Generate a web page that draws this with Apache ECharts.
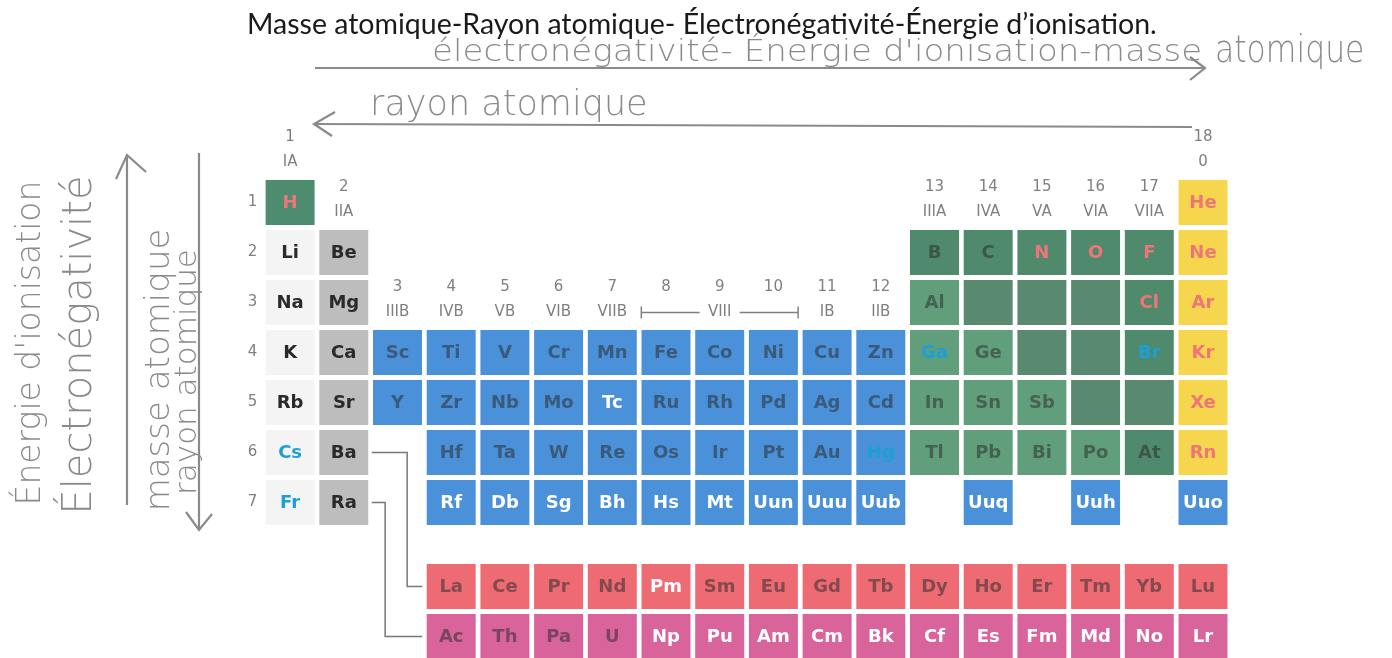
<!DOCTYPE html>
<html>
<head>
<meta charset="utf-8">
<script src="https://cdn.jsdelivr.net/npm/echarts@6/dist/echarts.min.js"></script>
<style>
  html, body { margin: 0; padding: 0; background: #fff; }
  #chart { width: 1392px; height: 658px; }
</style>
</head>
<body>
<div id="chart"></div>
<script>
// symboles par période ('.' = case vide, '#' = case verte sans symbole)
const periodRows = [
  'H . . . . . . . . . . . . . . . . He',
  'Li Be . . . . . . . . . . B C N O F Ne',
  'Na Mg . . . . . . . . . . Al # # # Cl Ar',
  'K Ca Sc Ti V Cr Mn Fe Co Ni Cu Zn Ga Ge # # Br Kr',
  'Rb Sr Y Zr Nb Mo Tc Ru Rh Pd Ag Cd In Sn Sb # # Xe',
  'Cs Ba . Hf Ta W Re Os Ir Pt Au Hg Tl Pb Bi Po At Rn',
  'Fr Ra . Rf Db Sg Bh Hs Mt Uun Uuu Uub . Uuq . Uuh . Uuo'
]
const lanthanides = ['La', 'Ce', 'Pr', 'Nd', 'Pm', 'Sm', 'Eu', 'Gd', 'Tb', 'Dy', 'Ho', 'Er', 'Tm', 'Yb', 'Lu']
const actinides = ['Ac', 'Th', 'Pa', 'U', 'Np', 'Pu', 'Am', 'Cm', 'Bk', 'Cf', 'Es', 'Fm', 'Md', 'No', 'Lr']

// famille de chaque case (couleur de fond)
const kindRows = [
  'h................y',
  'ae..........nnnnny',
  'ae..........gbbbny',
  'aettttttttttggbbny',
  'aettttttttttgggbby',
  'ae.tttttttttggggny',
  'ae.ttttttttt.t.t.t'
]
const lanthanideKind = 'lllllllllllllll'
const actinideKind = 'ccccccccccccccc'

// couleur du symbole
const inkRows = [
  's................s',
  'kk..........ddssss',
  'kk..........d...ss',
  'kkddddddddddcd..cs',
  'kkddddwdddddddd..s',
  'ck.ddddddddcddddds',
  'ck.wwwwwwwww.w.w.w'
]
const lanthanideInk = 'ddddwdddddddddd'
const actinideInk = 'ddddwwwwwwwwwww'

const groupNumbers = ['1', '2', '3', '4', '5', '6', '7', '8', '9', '10', '11', '12', '13', '14', '15', '16', '17', '18']
const groupRoman = ['IA', 'IIA', 'IIIB', 'IVB', 'VB', 'VIB', 'VIIB', '', 'VIII', '', 'IB', 'IIB', 'IIIA', 'IVA', 'VA', 'VIA', 'VIIA', '0']
const periodNumbers = ['1', '2', '3', '4', '5', '6', '7']

const lanthanideRow = 8.68
const actinideRow = 9.68

const fills = {
  h: '#4e8c6f', a: '#f4f4f4', e: '#bdbdbd', t: '#4b91d9', g: '#619f7c',
  n: '#4e8a6b', b: '#598a70', y: '#f6d64c', l: '#ee6b73', c: '#d9639b'
}
const inks = {
  k: '#2a2a2a', d: 'rgba(45,45,45,0.55)', s: '#f07579', c: '#1c9fd6', w: '#ffffff'
}

// construction des cases
const cells = []
periodRows.forEach((row, r) => {
  row.split(' ').forEach((sym, i) => {
    if (sym === '.') return
    cells.push({ col: i + 1, row: r + 1, sym: sym === '#' ? '' : sym, kind: kindRows[r][i], ink: inkRows[r][i] })
  })
})
lanthanides.forEach((sym, i) => {
  cells.push({ col: i + 4, row: lanthanideRow, sym: sym, kind: lanthanideKind[i], ink: lanthanideInk[i] })
})
actinides.forEach((sym, i) => {
  cells.push({ col: i + 4, row: actinideRow, sym: sym, kind: actinideKind[i], ink: actinideInk[i] })
})

// étiquettes des groupes : au-dessus de la première case de chaque colonne
const labels = []
groupNumbers.forEach((num, i) => {
  let first = 7
  periodRows.forEach((row, r) => {
    if (row.split(' ')[i] !== '.' && r + 1 < first) first = r + 1
  })
  labels.push({ col: i + 1, row: first - 1.3, text: num })
  if (groupRoman[i]) labels.push({ col: i + 1, row: first - 0.8, text: groupRoman[i], bracket: groupRoman[i] === 'VIII' })
})
periodNumbers.forEach((p, i) => {
  labels.push({ col: 0.3, row: i + 1, text: p })
})

const chart = echarts.init(document.getElementById('chart'))

const handColor = '#8a8a8a'
const handFont = (size) => 'lighter ' + size + 'px "DejaVu Sans"'

const option = {
  backgroundColor: '#ffffff',
  animation: false,
  title: {
    text: 'Masse atomique-Rayon atomique- Électronégativité-Énergie d\u2019ionisation.',
    left: 242,
    top: 5,
    textStyle: { fontFamily: 'Lato', fontSize: 28.5, fontWeight: 'normal', color: '#1a1a1a' }
  },
  grid: { left: 263.25, top: 77.5, width: 966.6, height: 550, outerBoundsMode: 'none' },
  xAxis: { type: 'value', min: 0.5, max: 18.5, show: false },
  yAxis: { type: 'value', min: -1.5, max: 9.5, inverse: true, show: false },
  series: [
    {
      type: 'custom',
      name: 'cases',
      clip: false,
      data: cells.map((c) => [c.col, c.row]),
      renderItem: function (params, api) {
        const d = cells[params.dataIndex]
        const p = api.coord([api.value(0), api.value(1)])
        const s = api.size([1, 1])
        const w = s[0] * 0.912
        const h = s[1] * 0.9
        return {
          type: 'group',
          children: [
            { type: 'rect', shape: { x: p[0] - w / 2, y: p[1] - h / 2, width: w, height: h }, style: { fill: fills[d.kind] } },
            {
              type: 'text', x: p[0], y: p[1] + 1,
              style: { text: d.sym, fill: inks[d.ink], font: 'bold 18px "DejaVu Sans"', align: 'center', verticalAlign: 'middle' }
            }
          ]
        }
      }
    },
    {
      type: 'custom',
      name: 'etiquettes',
      clip: false,
      data: labels.map((l) => [l.col, l.row]),
      renderItem: function (params, api) {
        const d = labels[params.dataIndex]
        const p = api.coord([api.value(0), api.value(1)])
        const s = api.size([1, 1])
        const children = [
          { type: 'text', x: p[0], y: p[1], style: { text: d.text, fill: '#808080', font: '15px "DejaVu Sans"', align: 'center', verticalAlign: 'middle' } }
        ]
        if (d.bracket) {
          const x0 = p[0] - s[0] * 1.46
          const x1 = p[0] + s[0] * 1.46
          const lineStyle = { stroke: '#808080', lineWidth: 1.5 }
          children.push(
            { type: 'line', shape: { x1: x0, y1: p[1], x2: p[0] - 20, y2: p[1] }, style: lineStyle },
            { type: 'line', shape: { x1: p[0] + 20, y1: p[1], x2: x1, y2: p[1] }, style: lineStyle },
            { type: 'line', shape: { x1: x0, y1: p[1] - 6, x2: x0, y2: p[1] + 6 }, style: lineStyle },
            { type: 'line', shape: { x1: x1, y1: p[1] - 6, x2: x1, y2: p[1] + 6 }, style: lineStyle }
          )
        }
        return { type: 'group', children: children }
      }
    },
    {
      type: 'custom',
      name: 'renvois',
      clip: false,
      // Ba -> lanthanides, Ra -> actinides
      data: [[6, lanthanideRow, 3.18], [7, actinideRow, 2.77]],
      renderItem: function (params, api) {
        const a = api.coord([2.52, api.value(0)])
        const b = api.coord([api.value(2), api.value(0)])
        const c = api.coord([api.value(2), api.value(1)])
        const d = api.coord([3.46, api.value(1)])
        return {
          type: 'polyline',
          shape: { points: [a, b, c, d] },
          style: { stroke: '#777', lineWidth: 1.5, fill: null }
        }
      }
    }
  ],
  graphic: [
    // annotations manuscrites
    { type: 'text', x: 432, y: 53, scaleX: 1.1, style: { text: 'électronégativité- Énergie d\'ionisation-masse', font: handFont(31), fill: handColor, align: 'left', verticalAlign: 'middle' } },
    { type: 'text', x: 1215, y: 52, scaleX: 0.85, style: { text: 'atomique', font: handFont(37), fill: handColor, align: 'left', verticalAlign: 'middle' } },
    { type: 'polyline', shape: { points: [[315, 68], [1205, 68]] }, style: { stroke: handColor, lineWidth: 2.2, fill: null } },
    { type: 'polyline', shape: { points: [[1190, 57], [1205, 68], [1190, 80]] }, style: { stroke: handColor, lineWidth: 2.2, fill: null } },
    { type: 'text', x: 370, y: 106, style: { text: 'rayon atomique', font: handFont(35), fill: handColor, align: 'left', verticalAlign: 'middle' } },
    { type: 'polyline', shape: { points: [[1192, 127], [315, 124]] }, style: { stroke: handColor, lineWidth: 2.2, fill: null } },
    { type: 'polyline', shape: { points: [[335, 112], [314, 124], [332, 136]] }, style: { stroke: handColor, lineWidth: 2.2, fill: null } },

    { type: 'text', x: 31, y: 343, rotation: Math.PI / 2, style: { text: 'Énergie d\'ionisation', font: handFont(33), fill: handColor, align: 'center', verticalAlign: 'middle' } },
    { type: 'text', x: 81, y: 345, rotation: Math.PI / 2, style: { text: 'Électronégativité', font: handFont(40), fill: handColor, align: 'center', verticalAlign: 'middle' } },
    { type: 'polyline', shape: { points: [[127, 505], [127, 155]] }, style: { stroke: handColor, lineWidth: 2.2, fill: null } },
    { type: 'polyline', shape: { points: [[116, 179], [127, 155], [146, 172]] }, style: { stroke: handColor, lineWidth: 2.2, fill: null } },
    { type: 'text', x: 160, y: 370, rotation: Math.PI / 2, style: { text: 'masse atomique', font: handFont(34), fill: handColor, align: 'center', verticalAlign: 'middle' } },
    { type: 'text', x: 188, y: 372, rotation: Math.PI / 2, style: { text: 'rayon atomique', font: handFont(31), fill: handColor, align: 'center', verticalAlign: 'middle' } },
    { type: 'polyline', shape: { points: [[199, 153], [199, 530]] }, style: { stroke: handColor, lineWidth: 2.2, fill: null } },
    { type: 'polyline', shape: { points: [[186, 512], [199, 530], [212, 514]] }, style: { stroke: handColor, lineWidth: 2.2, fill: null } }
  ]
}

chart.setOption(option)
</script>
</body>
</html>
